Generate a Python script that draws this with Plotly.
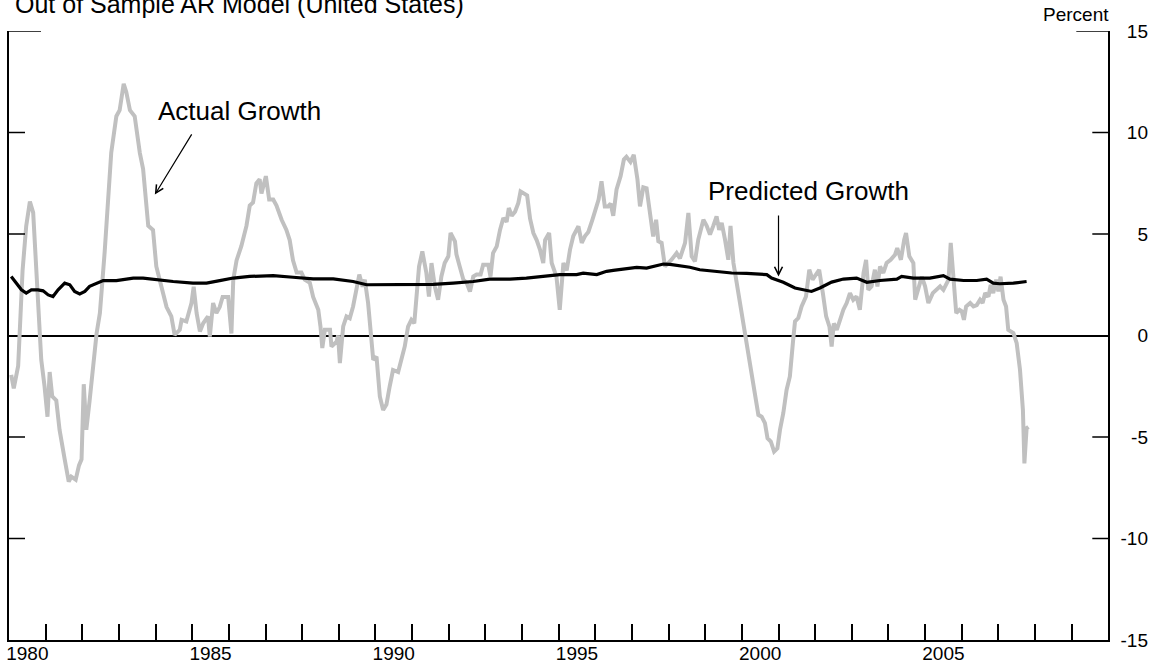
import plotly.graph_objects as go

# ---- data -------------------------------------------------------------
actual_year = [
    1980.06, 1980.13, 1980.25, 1980.29, 1980.37, 1980.47, 1980.57, 1980.66, 1980.75, 1980.82,
    1980.88, 1980.97, 1981.05, 1981.11, 1981.18, 1981.29, 1981.38, 1981.52, 1981.63, 1981.70,
    1981.82, 1981.91, 1981.98, 1982.04, 1982.11, 1982.20, 1982.28, 1982.39, 1982.48, 1982.61,
    1982.79, 1982.93, 1983.02, 1983.13, 1983.20, 1983.30, 1983.43, 1983.57, 1983.66, 1983.80,
    1983.93, 1984.02, 1984.16, 1984.30, 1984.43, 1984.52, 1984.66, 1984.71, 1984.84, 1984.98,
    1985.04, 1985.12, 1985.21, 1985.30, 1985.43, 1985.48, 1985.57, 1985.66, 1985.75, 1985.83,
    1985.98, 1986.07, 1986.12, 1986.21, 1986.34, 1986.48, 1986.57, 1986.66, 1986.75, 1986.84,
    1986.89, 1987.01, 1987.10, 1987.21, 1987.30, 1987.44, 1987.57, 1987.66, 1987.75, 1987.85,
    1987.98, 1988.07, 1988.21, 1988.30, 1988.44, 1988.50, 1988.55, 1988.62, 1988.76, 1988.80,
    1988.94, 1988.98, 1989.03, 1989.12, 1989.21, 1989.30, 1989.39, 1989.48, 1989.56, 1989.65,
    1989.71, 1989.80, 1989.89, 1989.94, 1990.03, 1990.12, 1990.21, 1990.30, 1990.39, 1990.48,
    1990.62, 1990.71, 1990.80, 1990.89, 1990.98, 1991.06, 1991.12, 1991.19, 1991.28, 1991.39,
    1991.46, 1991.53, 1991.62, 1991.71, 1991.80, 1991.89, 1991.99, 1992.05, 1992.17, 1992.21,
    1992.30, 1992.40, 1992.49, 1992.58, 1992.67, 1992.76, 1992.87, 1992.94, 1993.08, 1993.14,
    1993.21, 1993.31, 1993.40, 1993.49, 1993.58, 1993.64, 1993.72, 1993.81, 1993.90, 1993.96,
    1994.05, 1994.14, 1994.22, 1994.31, 1994.40, 1994.49, 1994.58, 1994.63, 1994.74, 1994.81,
    1994.94, 1995.03, 1995.13, 1995.22, 1995.31, 1995.40, 1995.54, 1995.63, 1995.72, 1995.81,
    1995.92, 1996.04, 1996.09, 1996.17, 1996.26, 1996.35, 1996.42, 1996.49, 1996.58, 1996.69,
    1996.78, 1996.85, 1996.96, 1997.05, 1997.15, 1997.22, 1997.31, 1997.40, 1997.49, 1997.58,
    1997.66, 1997.72, 1997.81, 1997.90, 1997.99, 1998.08, 1998.22, 1998.31, 1998.45, 1998.54,
    1998.63, 1998.72, 1998.81, 1998.95, 1999.04, 1999.13, 1999.22, 1999.31, 1999.38, 1999.45,
    1999.54, 1999.63, 1999.69, 1999.77, 1999.86, 1999.95, 2000.08, 2000.22, 2000.36, 2000.45,
    2000.54, 2000.63, 2000.70, 2000.79, 2000.88, 2000.97, 2001.04, 2001.13, 2001.22, 2001.31,
    2001.40, 2001.45, 2001.54, 2001.63, 2001.75, 2001.84, 2001.93, 2002.04, 2002.11, 2002.21,
    2002.30, 2002.39, 2002.45, 2002.51, 2002.59, 2002.68, 2002.77, 2002.86, 2002.95, 2003.04,
    2003.13, 2003.22, 2003.32, 2003.39, 2003.45, 2003.54, 2003.63, 2003.70, 2003.77, 2003.86,
    2003.95, 2004.06, 2004.18, 2004.24, 2004.34, 2004.43, 2004.48, 2004.57, 2004.68, 2004.73,
    2004.82, 2004.91, 2005.00, 2005.09, 2005.21, 2005.32, 2005.41, 2005.50, 2005.59, 2005.64,
    2005.70, 2005.75, 2005.85, 2005.94, 2006.00, 2006.06, 2006.12, 2006.23, 2006.32, 2006.41,
    2006.50, 2006.57, 2006.64, 2006.73, 2006.79, 2006.86, 2006.94, 2007.00, 2007.06, 2007.14,
    2007.21, 2007.27, 2007.41, 2007.50, 2007.59, 2007.67, 2007.71, 2007.77, 2007.82,
]
actual_growth = [
    -1.94, -2.6, -1.5, 0.0, 3.2, 5.4, 6.6, 6.05, 3.1, 0.0,
    -1.2, -2.5, -4.0, -1.8, -3.0, -3.2, -4.65, -6.1, -7.2, -6.95,
    -7.1, -6.4, -6.1, -2.4, -4.65, -3.2, -1.7, 0.1, 1.1, 4.1,
    9.0, 10.8, 11.1, 12.4, 12.0, 11.1, 10.8, 9.0, 8.2, 5.4,
    5.2, 3.4, 2.4, 1.4, 0.94, 0.03, 0.28, 0.77, 0.69, 1.6,
    2.4, 1.1, 0.2, 0.6, 0.94, -0.05, 1.6, 1.1, 1.4, 1.9,
    1.9, 0.1, 2.75, 3.7, 4.4, 5.4, 6.4, 6.55, 7.5, 7.7,
    7.0, 7.85, 6.7, 6.7, 6.4, 5.7, 5.2, 4.7, 3.7, 3.1,
    3.1, 2.75, 2.6, 1.9, 1.27, 0.45, -0.62, 0.28, 0.28, -0.54,
    -0.3, 0.0, -1.36, 0.45, 0.94, 0.85, 1.43, 2.4, 3.0, 2.4,
    2.75, 1.6, -0.2, -1.2, -1.04, -3.0, -3.67, -3.4, -2.5, -1.7,
    -1.8, -1.2, -0.54, 0.44, 0.77, 0.6, 1.92, 3.4, 4.14, 3.08,
    1.92, 3.57, 2.42, 1.76, 2.91, 3.57, 3.9, 5.05, 4.64, 4.0,
    3.4, 2.75, 2.6, 2.17, 2.9, 3.0, 3.0, 3.49, 3.49, 2.9,
    4.06, 4.39, 5.2, 5.79, 5.6, 6.28, 5.9, 6.1, 6.53, 7.1,
    7.0, 6.9, 5.75, 5.05, 4.7, 4.23, 3.57, 4.7, 5.05, 3.57,
    2.9, 1.27, 3.57, 3.2, 4.23, 4.9, 5.38, 4.56, 4.9, 5.1,
    5.7, 6.36, 6.7, 7.6, 6.36, 6.36, 6.5, 5.9, 7.19, 7.85,
    8.67, 8.8, 8.55, 8.9, 7.7, 6.36, 7.3, 7.25, 6.2, 4.88,
    5.7, 4.64, 4.56, 3.4, 3.57, 3.73, 4.06, 3.8, 4.56, 6.04,
    3.9, 3.65, 4.72, 5.7, 5.4, 4.97, 5.4, 5.87, 5.2, 5.55,
    4.72, 3.73, 5.4, 3.57, 2.58, 1.6, 0.12, -1.36, -2.84, -3.91,
    -4.0, -4.32, -5.06, -5.22, -5.72, -5.56, -4.65, -3.83, -2.68, -2.02,
    -0.21, 0.69, 0.86, 1.43, 1.92, 3.24, 2.75, 3.08, 3.24, 2.09,
    0.94, 0.44, -0.54, 0.6, 0.28, 0.77, 1.27, 1.6, 2.09, 1.76,
    1.92, 1.27, 3.08, 3.73, 2.25, 2.42, 3.24, 2.42, 3.4, 3.08,
    3.57, 3.73, 3.98, 4.31, 3.73, 4.72, 5.05, 3.9, 3.57, 1.76,
    2.42, 2.9, 2.42, 1.6, 2.09, 2.25, 2.42, 2.25, 2.58, 2.75,
    4.56, 3.24, 1.1, 1.27, 1.2, 0.77, 1.43, 1.6, 1.43, 1.5,
    1.76, 1.6, 2.09, 1.92, 2.5, 2.09, 2.75, 2.17, 2.9, 1.76,
    1.43, 0.28, 0.12, -0.38, -1.69, -3.67, -6.3, -4.57, -4.5,
]

predicted_year = [
    1980.06, 1980.20, 1980.34, 1980.47, 1980.61, 1980.79, 1980.93, 1981.07, 1981.20, 1981.34,
    1981.52, 1981.66, 1981.79, 1981.93, 1982.07, 1982.20, 1982.39, 1982.57, 1982.93, 1983.11,
    1983.39, 1983.66, 1984.02, 1984.48, 1985.02, 1985.39, 1985.75, 1986.12, 1986.57, 1987.21,
    1987.75, 1988.30, 1988.85, 1989.39, 1989.76, 1989.94, 1990.48, 1991.03, 1991.58, 1992.12,
    1992.67, 1993.12, 1993.67, 1994.12, 1994.58, 1995.03, 1995.49, 1995.67, 1996.04, 1996.31,
    1996.49, 1996.85, 1997.13, 1997.40, 1997.58, 1997.86, 1998.04, 1998.31, 1998.58, 1998.85,
    1999.40, 1999.72, 2000.13, 2000.49, 2000.68, 2000.81, 2001.13, 2001.45, 2001.72, 2001.90,
    2002.13, 2002.45, 2002.77, 2003.13, 2003.41, 2003.77, 2004.23, 2004.36, 2004.68, 2005.13,
    2005.50, 2005.68, 2006.05, 2006.41, 2006.68, 2006.86, 2007.04, 2007.41, 2007.77,
]
predicted_growth = [
    2.91, 2.58, 2.25, 2.09, 2.25, 2.25, 2.2, 2.0, 1.92, 2.25,
    2.58, 2.5, 2.17, 2.05, 2.17, 2.42, 2.58, 2.71, 2.7, 2.75,
    2.83, 2.83, 2.75, 2.66, 2.58, 2.58, 2.7, 2.83, 2.91, 2.95,
    2.87, 2.79, 2.79, 2.66, 2.5, 2.5, 2.5, 2.5, 2.52, 2.58,
    2.66, 2.78, 2.78, 2.83, 2.91, 3.0, 3.0, 3.07, 3.0, 3.16,
    3.21, 3.28, 3.36, 3.32, 3.4, 3.52, 3.5, 3.42, 3.36, 3.24,
    3.16, 3.08, 3.06, 3.0, 3.0, 2.83, 2.62, 2.34, 2.25, 2.17,
    2.34, 2.63, 2.78, 2.83, 2.62, 2.71, 2.78, 2.91, 2.83, 2.83,
    2.95, 2.78, 2.71, 2.71, 2.78, 2.58, 2.55, 2.58, 2.66,
]

year_ticks = list(range(1981, 2010))
label_years = [1980, 1985, 1990, 1995, 2000, 2005]
percent_ticks = [-15, -10, -5, 0, 5, 10, 15]
inner_ticks = [-10, -5, 5, 10]

# ---- figure -----------------------------------------------------------
FONT = "Arial, 'Liberation Sans', sans-serif"
W, H = 1159, 672
ML, MR, MT, MB = 9, 0, 31, 32
PAPER_W = W - ML - MR
PLOT_W = 1108.3 - ML
X_DOMAIN_END = PLOT_W / PAPER_W

fig = go.Figure()
fig.add_trace(go.Scatter(
    x=actual_year, y=actual_growth, mode="lines",
    line=dict(color="#c0c0c0", width=4), name="Actual Growth",
))
fig.add_trace(go.Scatter(
    x=predicted_year, y=predicted_growth, mode="lines",
    line=dict(color="#000000", width=3.2), name="Predicted Growth",
))
# Empty trace that carries the label axes (x2 / y2)
fig.add_trace(go.Scatter(x=[None], y=[None], xaxis="x2", yaxis="y2",
                         showlegend=False, hoverinfo="skip"))

fig.update_layout(
    width=W, height=H,
    margin=dict(l=ML, r=MR, t=MT, b=MB, autoexpand=False),
    paper_bgcolor="white", plot_bgcolor="white",
    showlegend=False,
    font=dict(family=FONT, color="black"),
    # year boundaries: tick marks only
    xaxis=dict(
        domain=[0, X_DOMAIN_END],
        range=[1980, 2010], fixedrange=True,
        showgrid=False, zeroline=False,
        showline=True, linecolor="black", linewidth=2,
        tickmode="array", tickvals=year_ticks,
        ticks="inside", ticklen=16, tickwidth=1.5, tickcolor="black",
        showticklabels=False,
    ),
    # year labels centred in their year
    xaxis2=dict(
        overlaying="x", anchor="y", side="bottom",
        domain=[0, X_DOMAIN_END],
        range=[1980, 2010], fixedrange=True,
        showgrid=False, zeroline=False, showline=False, ticks="",
        tickmode="array",
        tickvals=[y + 0.5 for y in label_years],
        ticktext=[str(y) for y in label_years],
        tickfont=dict(size=19, family=FONT),
    ),
    # percent frame: spines on both sides
    yaxis=dict(
        range=[-15, 15], fixedrange=True,
        showgrid=False,
        zeroline=True, zerolinecolor="black", zerolinewidth=2,
        showline=True, linecolor="black", linewidth=2, mirror=True,
        ticks="", showticklabels=False,
    ),
    # percent labels, right-aligned just outside the right spine
    yaxis2=dict(
        overlaying="y", side="left", anchor="free",
        position=(1148 - ML) / PAPER_W,
        range=[-15, 15], fixedrange=True,
        showgrid=False, zeroline=False, showline=False, ticks="",
        tickmode="array", tickvals=percent_ticks,
        ticktext=[str(v) for v in percent_ticks],
        tickfont=dict(size=19, family=FONT),
    ),
)

# inward tick marks on both spines; the ones at the top are long
for v in inner_ticks + [15]:
    frac = (32 if v == 15 else 16) / PLOT_W
    for x0, x1 in [(0, frac), (1 - frac, 1)]:
        fig.add_shape(type="line", xref="x domain", yref="y",
                      x0=x0, x1=x1, y0=v, y1=v,
                      line=dict(color="black", width=1.5))


def paper_y(py):
    return (H - MB - py) / (H - MT - MB)


annotations = [
    dict(text="Out of Sample AR Model (United States)", xref="paper", yref="paper",
         x=(13 - ML) / PAPER_W, y=paper_y(4), xanchor="left", yanchor="middle",
         showarrow=False, font=dict(size=25, family=FONT)),
    dict(text="Percent", xref="paper", yref="paper",
         x=(1111 - ML) / PAPER_W, y=paper_y(14.5), xanchor="right", yanchor="middle",
         showarrow=False, font=dict(size=19, family=FONT)),
    dict(text="Actual Growth", x=1984.0, y=11.08, xanchor="left", yanchor="middle",
         showarrow=False, font=dict(size=26, family=FONT)),
    dict(text="", x=1983.98, y=6.94, ax=1985.01, ay=9.98, axref="x", ayref="y",
         showarrow=True, arrowhead=5, arrowsize=1.3, arrowwidth=1.2,
         arrowcolor="black", standoff=0, startstandoff=0),
    dict(text="Predicted Growth", x=1999.02, y=7.12, xanchor="left", yanchor="middle",
         showarrow=False, font=dict(size=26, family=FONT)),
    dict(text="", x=2001.0, y=2.91, ax=2001.0, ay=5.99, axref="x", ayref="y",
         showarrow=True, arrowhead=5, arrowsize=1.3, arrowwidth=1.2,
         arrowcolor="black", standoff=0, startstandoff=0),
]
fig.update_layout(annotations=annotations)

fig.write_html("out.html")
